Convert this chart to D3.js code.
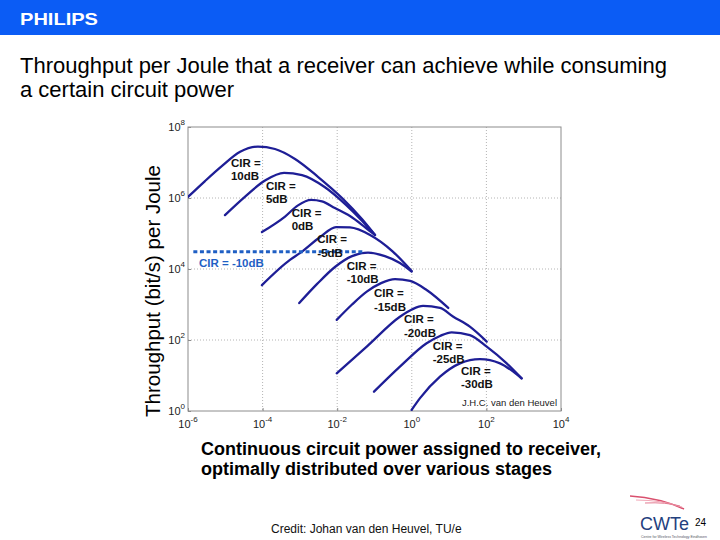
<!DOCTYPE html>
<html><head><meta charset="utf-8">
<script src="https://cdn.jsdelivr.net/npm/d3@7"></script>
<style>body{margin:0;background:#fff} svg{display:block;font-family:"Liberation Sans",Arial,sans-serif}</style>
</head><body>
<svg id="chart" width="720" height="540"></svg>
<script>
// ---- data (power in W, throughput in bit/s per Joule) ----
const cirNames = ["10dB","5dB","0dB","-5dB","-10dB","-15dB","-20dB","-25dB","-30dB"];
const curve10 = [[1.0e-6,1.07e6],[2.86e-6,3.0e6],[8.2e-6,8.0e6],[2.5e-5,2.0e7],[7.5e-5,2.8e7],[2.15e-4,2.4e7],[7.4e-4,1.26e7],[3.1e-3,3.9e6],[1.35e-2,1.0e6],[4.6e-2,2.56e5],[0.103,9.1e4]];
const curve5 = [[9.8e-6,3.3e5],[3.4e-5,1.1e6],[1.16e-4,3.1e6],[3.75e-4,5.1e6],[1.14e-3,4.4e6],[4.7e-3,2.0e6],[1.72e-2,6.4e5],[4.6e-2,2.3e5],[0.103,9.1e4]];
const curve0 = [[9.6e-5,1.1e5],[4.0e-4,3.0e5],[8.9e-4,6.2e5],[2.0e-3,8.8e5],[3.9e-3,8.0e5],[8.7e-3,5.2e5],[2.2e-2,3.1e5],[5.6e-2,1.5e5],[0.103,9.1e4]];
const curveM5 = [[9.6e-5,3.5e3],[5.4e-4,1.8e4],[1.0e-3,2.8e4],[3.5e-3,8.0e4],[9.3e-3,1.52e5],[2.2e-2,1.48e5],[7.6e-2,9.1e4],[0.31,3.1e4],[0.99,8.8e3]];
const curveM10 = [[9.6e-4,1.1e3],[2.9e-3,3.8e3],[8.7e-3,1.14e4],[2.5e-2,2.3e4],[6.7e-2,2.9e4],[0.19,2.3e4],[0.48,1.48e4],[0.99,8.5e3]];
const curveM15 = [[9.7e-3,370],[2.5e-2,1.0e3],[6.2e-2,2.3e3],[0.15,4.0e3],[0.355,5.2e3],[0.9,4.6e3],[2.5,2.56e3],[9.5,800]];
const curveM20 = [[9.7e-3,11.5],[6.2e-2,65],[0.48,450],[1.0,720],[2.0,910],[5.7,800],[12.7,460],[36,237],[102,90]];
const curveM25 = [[9.7e-2,3.5],[0.48,17.7],[2.5,81],[5.7,130],[11.7,165],[36,138],[102,65],[350,22],[880,8.3]];
const curveM30 = [[0.99,1.07],[1.66,2.3],[5.7,9.3],[19.6,22],[67,29],[232,22],[526,12.8],[880,8.3]];
const curves = [curve10, curve5, curve0, curveM5, curveM10, curveM15, curveM20, curveM25, curveM30];
// label anchors (data coords)
const labelPower = [1.42e-5,1.23e-4,6.03e-4,2.93e-3,1.80e-2,9.7e-2,0.618,3.63,20.8];
const labelTput  = [7.62e6,1.68e6,2.97e5,5.3e4,9.37e3,1.6e3,295,52.3,10.3];
// reference level for CIR = -10dB
const refLevel = 3.07e4;
const refRange = [1.39e-6, 5.0e-2];
const refLabelAt = [1.97e-6, 1.16e4];
// ticks
const xTickValues = [1e-6,1e-4,1e-2,1,1e2,1e4];
const xTickExps = ["-6","-4","-2","0","2","4"];
const yTickValues = [1,1e2,1e4,1e6,1e8];
const yTickExps = ["0","2","4","6","8"];
const xGrid = [1e-4,1e-2,1,1e2];
const yGrid = [1e2,1e4,1e6];

const svg = d3.select("#chart");
// header
svg.append("rect").attr("x",0).attr("y",0).attr("width",720).attr("height",35).attr("fill","#0b5cf5");
svg.append("text").attr("x",20).attr("y",25).attr("fill","#fff").attr("font-weight","bold")
  .attr("font-size",17).attr("textLength",78).attr("lengthAdjust","spacingAndGlyphs").text("PHILIPS");
// title
svg.append("text").attr("x",20).attr("y",73).attr("font-size",22).attr("fill","#000")
  .text("Throughput per Joule that a receiver can achieve while consuming");
svg.append("text").attr("x",20).attr("y",97).attr("font-size",22).attr("fill","#000")
  .text("a certain circuit power");

const L=188,R=561,T=127,B=411;
const x = d3.scaleLog().domain([1e-6,1e4]).range([L,R]);
const y = d3.scaleLog().domain([1,1e8]).range([B,T]);

// grid
const g = svg.append("g");
g.selectAll(".gx").data(xGrid).enter().append("line")
  .attr("x1",d=>x(d)).attr("x2",d=>x(d)).attr("y1",T).attr("y2",B)
  .attr("stroke","#b4b4b4").attr("stroke-width",1).attr("stroke-dasharray","1,2");
g.selectAll(".gy").data(yGrid).enter().append("line")
  .attr("y1",d=>y(d)).attr("y2",d=>y(d)).attr("x1",L).attr("x2",R)
  .attr("stroke","#b4b4b4").attr("stroke-width",1).attr("stroke-dasharray","1,2");

// axes (ticks inward)
const ax = g.append("g").attr("transform",`translate(0,${B})`)
  .call(d3.axisBottom(x).tickValues(xTickValues).tickSizeInner(-3).tickSizeOuter(0).tickFormat(()=>""));
const ay = g.append("g").attr("transform",`translate(${L},0)`)
  .call(d3.axisLeft(y).tickValues(yTickValues).tickSizeInner(-3).tickSizeOuter(0).tickFormat(()=>""));
[ax,ay].forEach(a=>{a.select(".domain").remove(); a.selectAll("line").attr("stroke","#8c8c8c");});
g.append("rect").attr("x",L).attr("y",T).attr("width",R-L).attr("height",B-T)
  .attr("fill","none").attr("stroke","#8c8c8c").attr("stroke-width",1);

// tick labels with superscripts
xTickValues.forEach((v,i)=>{
  const t = svg.append("text").attr("x",x(v)).attr("y",428).attr("text-anchor","middle")
    .attr("font-size",11).attr("fill","#222");
  t.append("tspan").text("10");
  t.append("tspan").attr("dy",-6).attr("font-size",8).text(xTickExps[i]);
});
yTickValues.forEach((v,i)=>{
  const t = svg.append("text").attr("x",185).attr("y",y(v)+4).attr("text-anchor","end")
    .attr("font-size",11).attr("fill","#222");
  t.append("tspan").text("10");
  t.append("tspan").attr("dy",-6).attr("font-size",8).text(yTickExps[i]);
});

// y label
svg.append("text").attr("transform",`translate(160,291) rotate(-90)`).attr("text-anchor","middle")
  .attr("font-size",20.5).attr("fill","#000").text("Throughput (bit/s) per Joule");

// curves
svg.append("clipPath").attr("id","clip").append("rect").attr("x",L).attr("y",T).attr("width",R-L).attr("height",B-T);
const line = d3.line().x(d=>x(d[0])).y(d=>y(d[1])).curve(d3.curveMonotoneX);
svg.append("g").attr("clip-path","url(#clip)").selectAll("path").data(curves).enter().append("path")
  .attr("d",line).attr("fill","none").attr("stroke","#1e1e96").attr("stroke-width",2.3)
  .attr("stroke-linecap","round").attr("stroke-linejoin","round");

// reference dotted line
svg.append("line").attr("x1",x(refRange[0])).attr("x2",x(refRange[1])).attr("y1",y(refLevel)).attr("y2",y(refLevel))
  .attr("stroke","#1f5fc4").attr("stroke-width",3).attr("stroke-dasharray","4,2.6");
svg.append("text").attr("x",x(refLabelAt[0])).attr("y",y(refLabelAt[1])).attr("font-size",11.5)
  .attr("font-weight","bold").attr("fill","#1f5fc4").text("CIR = -10dB");

// CIR labels
cirNames.forEach((n,i)=>{
  const lx = x(labelPower[i]), ly = y(labelTput[i]);
  svg.append("text").attr("x",lx).attr("y",ly).attr("font-size",11.5).attr("font-weight","bold").attr("fill","#111").text("CIR =");
  svg.append("text").attr("x",lx).attr("y",ly+13.3).attr("font-size",11.5).attr("font-weight","bold").attr("fill","#111").text(n);
});

// author note
svg.append("text").attr("x",557).attr("y",406).attr("text-anchor","end").attr("font-size",9.5)
  .attr("fill","#222").text("J.H.C. van den Heuvel");

// bottom text
svg.append("text").attr("x",201).attr("y",454.5).attr("font-size",18).attr("font-weight","bold")
  .text("Continuous circuit power assigned to receiver,");
svg.append("text").attr("x",201).attr("y",475).attr("font-size",18).attr("font-weight","bold")
  .text("optimally distributed over various stages");
svg.append("text").attr("x",271).attr("y",532.5).attr("font-size",12).attr("fill","#111")
  .text("Credit: Johan van den Heuvel, TU/e");

// CWTe logo
const logo = svg.append("g");
logo.append("path").attr("d","M630,496 Q660,498 684,509").attr("fill","none").attr("stroke","#d9506e").attr("stroke-width",1.6);
logo.append("path").attr("d","M636,500 Q662,500 682,507").attr("fill","none").attr("stroke","#f2a9b8").attr("stroke-width",1.2);
logo.append("path").attr("d","M645,503 Q666,502 680,506").attr("fill","none").attr("stroke","#e47b92").attr("stroke-width",1);
logo.append("text").attr("x",640).attr("y",530).attr("font-size",18).attr("fill","#23407e").text("CWTe");
logo.append("text").attr("x",641).attr("y",538).attr("font-size",4).attr("fill","#556")
  .attr("textLength",66).attr("lengthAdjust","spacingAndGlyphs").text("Centre for Wireless Technology Eindhoven");
svg.append("text").attr("x",695).attr("y",526).attr("font-size",10).attr("fill","#000").text("24");
</script>
</body></html>
